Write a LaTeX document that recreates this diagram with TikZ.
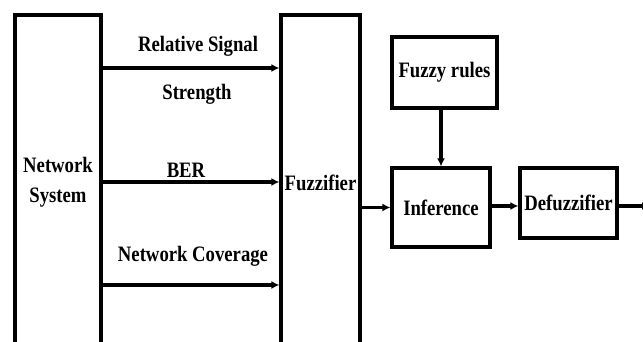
\documentclass[tikz,border=0pt]{standalone}
\usepackage{fontspec}
\setmainfont{Liberation Serif}[FakeStretch=0.85]
\usetikzlibrary{arrows.meta,positioning}

\begin{document}
\begin{tikzpicture}[x=1pt,y=-1pt,
  blk/.style={draw=black,line width=3.2pt,fill=white,inner sep=0pt,align=center,
    font=\fontsize{22}{30}\selectfont\bfseries},
  lbl/.style={inner sep=0pt,font=\fontsize{22}{24}\selectfont\bfseries},
  link/.style={line width=3.2pt,-{Latex[length=8pt,width=8pt]}}]
\useasboundingbox (0,0) rectangle (643,342);
\clip (0,0) rectangle (643,342);
% blocks
\node[blk,minimum width=86pt,minimum height=335pt] (ns) at (58,182.5) {Network\\System};
\node[blk,minimum width=79pt,minimum height=335pt] (fz) at (320.5,182.5) {Fuzzifier};
\node[blk,minimum width=105pt,minimum height=71pt] (fr) at (444.5,72.5) {Fuzzy rules};
\node[blk,minimum width=98pt,minimum height=79pt] (inf) at (441,207.5) {Inference};
\node[blk,minimum width=97pt,minimum height=70pt] (df) at (568.5,203) {Defuzzifier};
\coordinate (out) at (650,206);
% input labels
\node[lbl] (rs1) at (198,46) {Relative Signal};
\node[lbl] (rs2) at (197,94) {Strength};
\node[lbl] (ber) at (186,170) {BER};
\node[lbl] (cov) at (193,256) {Network Coverage};
% connectors
\draw[link] (ns.east |- 0,68) -- (fz.west |- 0,68);
\draw[link] (ns.east |- 0,182) -- (fz.west |- 0,182);
\draw[link] (ns.east |- 0,285) -- (fz.west |- 0,285);
\draw[link] (fz.east |- inf.west) -- (inf.west);
\draw[link] (inf.north |- fr.south) -- (inf.north);
\draw[link] (inf.east |- 0,206) -- (df.west |- 0,206);
\draw[link] (df.east |- out) -- (out);
\end{tikzpicture}
\end{document}
